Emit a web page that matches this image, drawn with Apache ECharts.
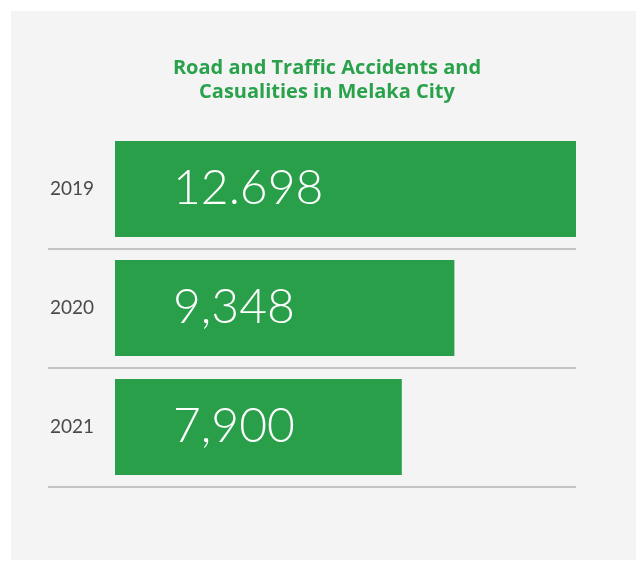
<!DOCTYPE html>
<html>
<head>
<meta charset="utf-8">
<script src="https://cdn.jsdelivr.net/npm/echarts@6/dist/echarts.min.js"></script>
<style>
  body { margin: 0; background: #ffffff; }
  #panel { position: absolute; left: 11px; top: 11px; width: 625px; height: 549px; background: #f4f4f4; }
  #main { position: absolute; left: 0; top: 0; width: 636px; height: 561px; }
</style>
</head>
<body>
<div id="panel"></div>
<div id="main"></div>
<script>
// data
const years = ['2019', '2020', '2021']
const accidents = [12698, 9348, 7900]
const valueLabels = ['12.698', '9,348', '7,900']

const chart = echarts.init(document.getElementById('main'))
const option = {
  backgroundColor: 'transparent',
  title: {
    text: 'Road and Traffic Accidents and\nCasualities in Melaka City',
    left: 322,
    textAlign: 'center',
    top: 51,
    textStyle: {
      color: '#2aa14b',
      fontSize: 20,
      fontWeight: 'bold',
      fontFamily: 'Open Sans',
      lineHeight: 24
    }
  },
  grid: {
    left: 48,
    right: 60,
    top: 129.5,
    bottom: 74.5
  },
  xAxis: {
    type: 'value',
    // negative min leaves room for the year labels left of the bars
    min: -1845,
    max: 12698,
    show: false
  },
  yAxis: {
    type: 'category',
    data: years,
    inverse: true,
    axisLine: { show: false },
    axisTick: { show: false },
    axisLabel: {
      inside: true,
      margin: 24,
      align: 'center',
      color: '#4a4a4a',
      fontSize: 19,
      fontFamily: 'Lato'
    },
    splitLine: {
      show: true,
      interval: function (index) { return index !== 0 },
      lineStyle: { color: '#c4c4c4', width: 2 }
    }
  },
  series: [
    {
      type: 'bar',
      data: accidents,
      barWidth: 96,
      itemStyle: { color: '#289f48' },
      label: {
        show: true,
        position: 'insideLeft',
        distance: 58,
        color: '#ffffff',
        fontSize: 48,
        fontWeight: 300,
        fontFamily: 'Lato',
        formatter: function (p) { return valueLabels[p.dataIndex] }
      }
    }
  ]
}
chart.setOption(option)
</script>
</body>
</html>
